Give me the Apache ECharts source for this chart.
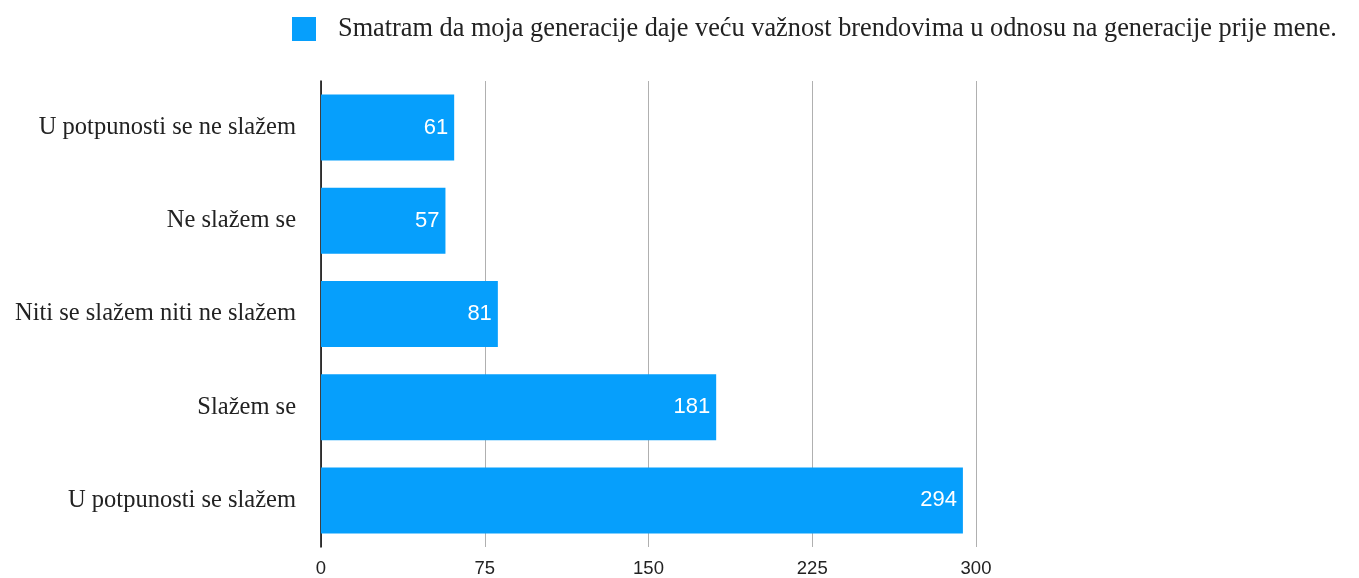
<!DOCTYPE html>
<html>
<head>
<meta charset="utf-8">
<script src="https://cdn.jsdelivr.net/npm/echarts@6/dist/echarts.min.js"></script>
<style>
  html, body { margin: 0; padding: 0; background: #fff; }
  #chart { width: 1359px; height: 578px; }
</style>
</head>
<body>
<div id="chart"></div>
<script>
const seriesName = "Smatram da moja generacije daje veću važnost brendovima u odnosu na generacije prije mene.";
const categories = [
  "U potpunosti se ne slažem",
  "Ne slažem se",
  "Niti se slažem niti ne slažem",
  "Slažem se",
  "U potpunosti se slažem",
];
const values = [61, 57, 81, 181, 294];

const chart = echarts.init(document.getElementById("chart"));

chart.setOption({
  animation: false,
  legend: {
    data: [seriesName],
    left: 287,
    top: 11,
    itemWidth: 24,
    itemHeight: 24,
    icon: "rect",
    textStyle: {
      fontFamily: "Liberation Serif",
      fontSize: 26.3,
      color: "#222",
      padding: [0, 0, 0, 17],
    },
  },
  grid: {
    left: 321,
    right: 383,
    top: 81,
    bottom: 31,
    containLabel: false,
  },
  xAxis: {
    type: "value",
    min: 0,
    max: 300,
    interval: 75,
    axisLine: { show: false },
    axisTick: { show: false },
    splitLine: { lineStyle: { color: "#b0b0b0", width: 1 } },
    axisLabel: {
      margin: 12,
      fontFamily: "Liberation Sans",
      fontSize: 18.5,
      color: "#222",
    },
  },
  yAxis: {
    type: "category",
    data: categories,
    inverse: true,
    axisLine: { show: true, lineStyle: { color: "#000", width: 1.5 } },
    axisTick: { show: false },
    axisLabel: {
      margin: 25,
      fontFamily: "Liberation Serif",
      fontSize: 24.5,
      color: "#222",
    },
  },
  series: [
    {
      name: seriesName,
      type: "bar",
      data: values,
      barWidth: 66,
      itemStyle: { color: "#069ffc" },
      label: {
        show: true,
        position: "insideRight",
        distance: 6,
        color: "#fff",
        fontFamily: "Liberation Sans",
        fontSize: 22,
      },
    },
  ],
});
</script>
</body>
</html>
